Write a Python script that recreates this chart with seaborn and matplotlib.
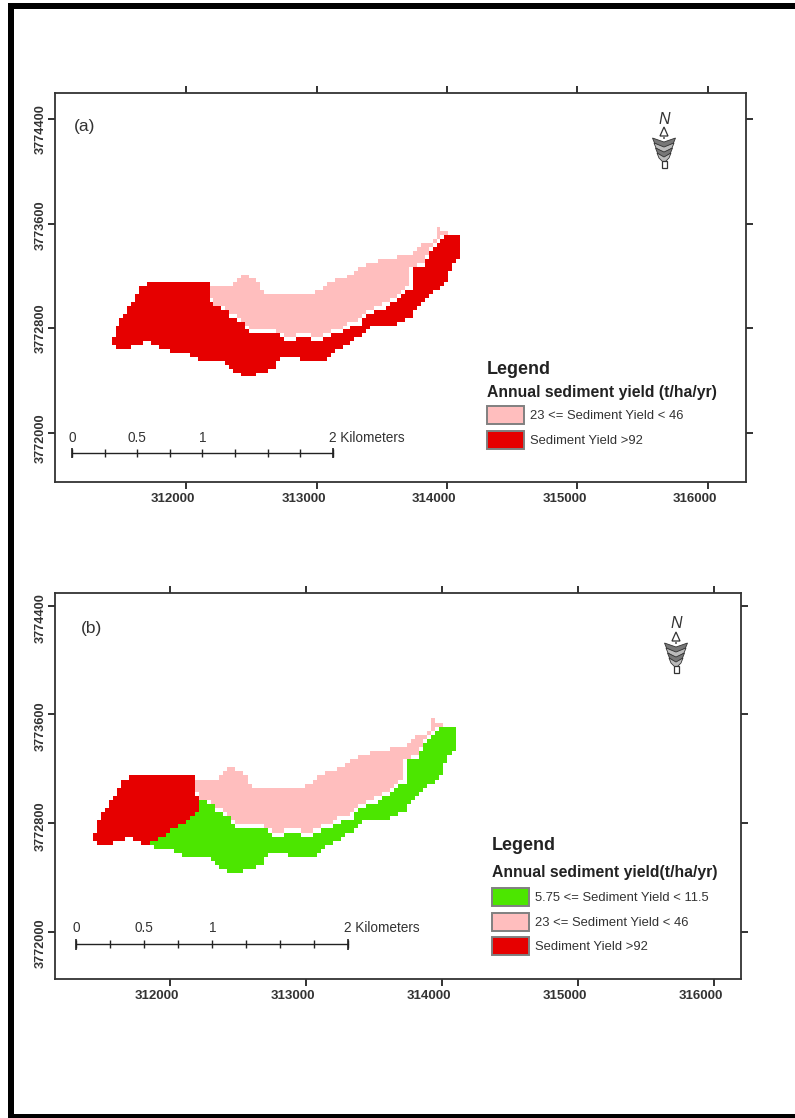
import numpy as np
import matplotlib
matplotlib.use("Agg")
import matplotlib.pyplot as plt
import seaborn as sns
from matplotlib.colors import ListedColormap
from matplotlib.patches import Patch, Polygon, Rectangle
from matplotlib.path import Path
from matplotlib.transforms import ScaledTranslation

# Watershed outlines in map coordinates (easting, northing)
lower_e = [311443, 311473, 311558, 311616, 311647, 311729, 312183, 312183, 312222, 312298,
           312337, 312401, 312452, 312464, 312533, 312733, 312771, 312847, 312853, 312962,
           312970, 313052, 313057, 313167, 313256, 313333, 313358, 313435, 313511, 313575,
           313626, 313678, 313728, 313754, 313728, 313728, 313754, 313831, 313856, 313895,
           313933, 313971, 314035, 314112, 314112, 314073, 314027, 314022, 313971, 313920,
           313856, 313818, 313754, 313736, 313614, 313511, 313409, 313346, 313294, 313243,
           313167, 313116, 313077, 312878, 312873, 312771, 312707, 312681, 312630, 312533,
           312528, 312452, 312388, 312311, 312298, 312107, 312043, 311933, 311851, 311729,
           311724, 311673, 311596, 311473, 311443]
lower_n = [3772721, 3772831, 3772950, 3773027, 3773116, 3773152, 3773152, 3773019, 3772963, 3772950,
           3772899, 3772866, 3772823, 3772780, 3772764, 3772746, 3772695, 3772703, 3772734, 3772721,
           3772695, 3772695, 3772734, 3772759, 3772810, 3772823, 3772887, 3772925, 3772950, 3772994,
           3773027, 3773065, 3773103, 3773154, 3773167, 3773231, 3773256, 3773282, 3773345, 3773409,
           3773460, 3773498, 3773519, 3773519, 3773366, 3773320, 3773294, 3773180, 3773116, 3773090,
           3773052, 3772989, 3772950, 3772892, 3772836, 3772810, 3772810, 3772746, 3772721, 3772670,
           3772632, 3772606, 3772550, 3772550, 3772581, 3772581, 3772555, 3772504, 3772466, 3772453,
           3772436, 3772436, 3772466, 3772517, 3772550, 3772550, 3772594, 3772606, 3772645, 3772662,
           3772688, 3772688, 3772657, 3772642, 3772670]
pink_e = [312183, 312362, 312362, 312459, 312528, 312566, 312625, 312988, 313001, 313052,
          313154, 313256, 313333, 313397, 313460, 313614, 313626, 313728, 313818, 313895,
          313920, 313951, 313971, 314022, 313946, 313907, 313869, 313831, 313754, 313703,
          313703, 313721, 313678, 313626, 313562, 313499, 313422, 313346, 313320, 313243,
          313167, 313052, 313052, 312970, 312962, 312853, 312847, 312771, 312733, 312533,
          312464, 312452, 312401, 312337, 312298, 312222, 312183]
pink_n = [3773121, 3773121, 3773154, 3773210, 3773180, 3773121, 3773065, 3773065, 3773090, 3773111,
          3773172, 3773205, 3773256, 3773294, 3773315, 3773315, 3773345, 3773358, 3773447, 3773460,
          3773536, 3773580, 3773536, 3773524, 3773503, 3773468, 3773409, 3773320, 3773274, 3773243,
          3773162, 3773136, 3773090, 3773052, 3773014, 3772976, 3772950, 3772912, 3772848, 3772836,
          3772790, 3772754, 3772721, 3772716, 3772746, 3772754, 3772721, 3772721, 3772772, 3772785,
          3772810, 3772848, 3772892, 3772925, 3772976, 3772983, 3773034]
west_e = [311300, 312188, 312188, 312225, 312220, 312184, 312147, 312073, 312000, 311926, 311848, 311848, 311300]
west_n = [3773300, 3773300, 3773010, 3772985, 3772932, 3772871, 3772810, 3772785, 3772736, 3772687, 3772650, 3772600, 3772600]

x_ticks = [312000, 313000, 314000, 315000, 316000]
y_ticks = [3772000, 3772800, 3773600, 3774400]
scale_km = [0, 0.25, 0.5, 0.75, 1, 1.25, 1.5, 1.75, 2]
scale_labels = {0: "0", 0.5: "0.5", 1: "1", 2: "2 Kilometers"}

labels_a = ["23 <= Sediment Yield < 46", "Sediment Yield >92"]
labels_b = ["5.75 <= Sediment Yield < 11.5", "23 <= Sediment Yield < 46", "Sediment Yield >92"]

RED, PINK, GREEN = "#E60000", "#FFBEBE", "#4CE600"
INK = "#333333"
W, H = 795, 1118
CELL = 30

sns.set_style("white")
plt.rcParams["font.family"] = ["Liberation Sans", "DejaVu Sans"]

fig = plt.figure(figsize=(W / 100, H / 100), dpi=100, facecolor="white")


def fx(px):
    return px / W


def fy(py):
    return 1 - py / H


def classify(split_west):
    # burn the outlines into a raster, the source map is a grid of cells
    edges_e = np.arange(311400, 314200, CELL)
    edges_n = np.arange(3772400, 3773620, CELL)
    ce, cn = np.meshgrid(edges_e[:-1] + CELL / 2, edges_n[:-1] + CELL / 2)
    pts = np.column_stack([ce.ravel(), cn.ravel()])
    grid = np.full(ce.shape, np.nan)
    in_lower = Path(np.column_stack([lower_e, lower_n])).contains_points(pts).reshape(ce.shape)
    in_pink = Path(np.column_stack([pink_e, pink_n])).contains_points(pts).reshape(ce.shape)
    if split_west:
        in_west = Path(np.column_stack([west_e, west_n])).contains_points(pts).reshape(ce.shape)
        grid[in_lower] = 2
        grid[in_lower & in_west] = 0
    else:
        grid[in_lower] = 0
    grid[in_pink & ~in_lower] = 1
    return edges_e, edges_n, grid


def north_arrow(cx, top):
    fig.text(fx(cx), fy(top + 5), "N", ha="center", va="center", fontsize=11.5, style="italic", color=INK)
    fig.add_artist(Polygon([(fx(cx), fy(top + 13)), (fx(cx - 4), fy(top + 22)), (fx(cx + 4), fy(top + 22))],
                           closed=True, fc="white", ec=INK, lw=0.9, transform=fig.transFigure))
    fig.add_artist(Rectangle((fx(cx - 1), fy(top + 25)), 2 / W, 3 / H, fc="#777777", ec="none",
                             transform=fig.transFigure))
    for i, shade in enumerate(["#777777", "#bbbbbb", "#777777", "#bbbbbb"]):
        y0 = top + 24 + i * 5
        half = 11.5 - i * 1.5
        fig.add_artist(Polygon([(fx(cx - half), fy(y0)), (fx(cx), fy(y0 + 4)), (fx(cx + half), fy(y0)),
                                (fx(cx + half - 2), fy(y0 + 5)), (fx(cx), fy(y0 + 10)), (fx(cx - half + 2), fy(y0 + 5))],
                               closed=True, fc=shade, ec="#333333", lw=0.6, transform=fig.transFigure))
    fig.add_artist(Rectangle((fx(cx - 2.5), fy(top + 54)), 5 / W, 7 / H, fc="white", ec=INK, lw=0.9,
                             transform=fig.transFigure))


def draw_panel(box, xlim, ylim, split_west, scale_origin, tag, tag_xy, legend_labels, legend_colors,
               legend_xy, title_y, title_text, arrow, y_shifts):
    left, top, right, bottom = box
    ax = fig.add_axes([fx(left), fy(bottom), (right - left) / W, (bottom - top) / H])

    edges_e, edges_n, grid = classify(split_west)
    ax.pcolormesh(edges_e, edges_n, grid, cmap=ListedColormap([RED, PINK, GREEN]), vmin=0, vmax=2)

    # scale bar, drawn in map units
    bar_x = scale_origin[0] + np.array(scale_km) * 1000
    sns.lineplot(x=bar_x, y=np.full(len(bar_x), scale_origin[1]), ax=ax, color="#222222", lw=1.0, estimator=None)
    ax.vlines(bar_x, scale_origin[1] - 30, scale_origin[1] + 30, color="#222222", lw=1.0)
    ax.vlines(bar_x[[0, -1]], scale_origin[1] - 40, scale_origin[1] + 40, color="#222222", lw=1.2)
    for km, text in scale_labels.items():
        x = scale_origin[0] + km * 1000
        if km == 2:
            ax.text(x - 28, scale_origin[1] + 118, text, ha="left", va="center", fontsize=9.8, color=INK)
        else:
            ax.text(x, scale_origin[1] + 118, text, ha="center", va="center", fontsize=9.8, color=INK)

    ax.set_xlim(*xlim)
    ax.set_ylim(*ylim)
    ax.set_xticks(x_ticks)
    ax.set_yticks(y_ticks)
    ax.set_xticklabels([str(v) for v in x_ticks], fontsize=9.5, fontweight="bold", color=INK)
    ax.set_yticklabels([str(v) for v in y_ticks], fontsize=9.2, fontweight="bold", color=INK,
                       rotation=90, va="center")
    ax.tick_params(axis="both", which="major", direction="out", length=5, width=1.3, color="#222222",
                   top=True, right=True, bottom=True, left=True, labeltop=False, labelright=False)
    ax.tick_params(axis="x", pad=3)
    ax.tick_params(axis="y", pad=1)

    # the labels sit off their ticks in the source layout
    for lab in ax.get_xticklabels():
        lab.set_transform(lab.get_transform() + ScaledTranslation(-13 / 100, 0, fig.dpi_scale_trans))
    for lab, shift in zip(ax.get_yticklabels(), y_shifts):
        lab.set_transform(lab.get_transform() + ScaledTranslation(0, -shift / 100, fig.dpi_scale_trans))

    sns.despine(ax=ax, top=False, right=False)
    for spine in ax.spines.values():
        spine.set_linewidth(1.3)
        spine.set_color("#333333")

    fig.text(fx(tag_xy[0]), fy(tag_xy[1]), tag, ha="center", va="center", fontsize=12.5, color=INK)
    fig.text(fx(title_y[0]), fy(title_y[1]), "Legend", ha="left", va="center", fontsize=13, fontweight="bold", color="#222222")
    fig.text(fx(title_y[0]), fy(title_y[2]), title_text, ha="left", va="center", fontsize=11.3, fontweight="bold", color="#222222")

    handles = [Patch(facecolor=c, edgecolor="#808080", linewidth=1.4) for c in legend_colors]
    ax.legend(handles, legend_labels, loc="upper left", bbox_to_anchor=(fx(legend_xy[0]), fy(legend_xy[1])),
              bbox_transform=fig.transFigure, frameon=False, fontsize=9.4, labelcolor=INK, handlelength=2.85,
              handleheight=1.75, labelspacing=0.5, handletextpad=0.45, borderpad=0, borderaxespad=0)

    north_arrow(*arrow)
    return ax


draw_panel((55, 93, 745.7, 481.7), (310996, 316289), (3771625, 3774599), False, (311126, 3771844),
           "(a)", (84.5, 126), labels_a, [PINK, RED], (487, 406), (487, 369, 392),
           "Annual sediment yield (t/ha/yr)", (664, 114), [5, 0, 2, 10])
draw_panel((55, 593, 741, 979), (311154, 316199), (3771651, 3774494), True, (311311, 3771907),
           "(b)", (92, 629), labels_b, [GREEN, PINK, RED], (492, 888), (492, 845, 872),
           "Annual sediment yield(t/ha/yr)", (676, 619), [12, 3, 12, 12])

# thick page border: top, left and bottom only
for x0, y0, w, h in [(8, 3, W - 8, 6), (8, 3, 5.5, H - 3), (8, 1113.5, W - 8, 4.5)]:
    fig.add_artist(Rectangle((fx(x0), fy(y0 + h)), w / W, h / H, fc="black", ec="none", transform=fig.transFigure))

fig.savefig("out.png", dpi=100)
